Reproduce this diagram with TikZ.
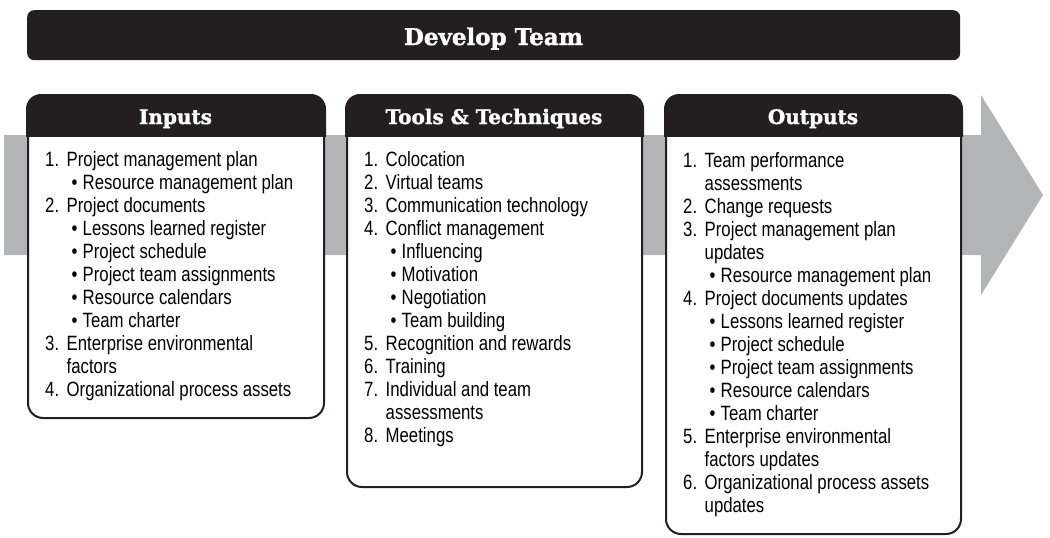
\documentclass[tikz,border=0pt]{standalone}
\usepackage{fontspec}
\newfontfamily\bodyfont{Liberation Sans}[FakeStretch=0.81]
\newfontfamily\headfont{DejaVu Serif}[BoldFeatures={FakeBold=1.6}]
\definecolor{barblack}{RGB}{35,31,32}
\definecolor{flowgray}{RGB}{179,180,182}

% list helpers: numbered item, continuation line, bullet sub-item
\newcommand\numitem[2]{\makebox[21.5pt][l]{#1}#2}
\newcommand\contline[1]{\hspace*{21.5pt}#1}
\newcommand\bulitem[1]{\hspace*{26.5pt}\makebox[11pt][l]{\textbullet}#1}
\newcommand\listbody[1]{\parbox[t]{290pt}{\bodyfont\fontsize{20.7}{23}\selectfont #1}}

\tikzset{
  panel/.style={draw=barblack, line width=2pt, fill=white, rounded corners=15pt,
    anchor=north west, inner sep=0pt},
  paneltitle/.style={font=\headfont\bfseries\fontsize{20}{24}\selectfont, text=white,
    anchor=base, inner sep=0pt},
  panelbody/.style={anchor=base west, inner sep=0pt},
  titlebar/.style={fill=barblack, rounded corners=7pt, anchor=north west,
    minimum width=933pt, minimum height=50pt, inner sep=0pt},
}

\begin{document}
\begin{tikzpicture}[x=1pt, y=-1pt]
\useasboundingbox (0,0) rectangle (1050,538);

% flow arrow behind the panels
\fill[flowgray] (4,135) -- (981,135) -- (981,95) -- (1043,195) -- (981,295)
  -- (981,255) -- (4,255) -- cycle;

% title bar
\node[titlebar] (titlebox) at (27,10) {};
\node[font=\headfont\bfseries\fontsize{23}{27}\selectfont, text=white, anchor=base,
  inner sep=0pt] (title) at (493.5,45) {Develop Team};

% panels
\node[panel, minimum width=296pt, minimum height=322pt] (inp) at (27,95) {};
\node[panel, minimum width=295pt, minimum height=391pt] (tls) at (346,95) {};
\node[panel, minimum width=295pt, minimum height=438pt] (out) at (665,95) {};

% dark header strips
\foreach \p in {inp,tls,out}{
  \begin{scope}
    \clip ([xshift=-2pt,yshift=2pt]\p.north west) rectangle ([xshift=2pt]\p.east |- 0,136);
    \fill[barblack, rounded corners=15pt] ([xshift=-1pt,yshift=1pt]\p.north west)
      rectangle ([xshift=1pt,yshift=-1pt]\p.south east);
  \end{scope}
}

\node[paneltitle] (inptitle) at (175.5,124) {Inputs};
\node[paneltitle] (tlstitle) at (494,124) {Tools \& Techniques};
\node[paneltitle] (outtitle) at (813,124) {Outputs};

\node[panelbody] (inpbody) at (45,166.5) {\listbody{%
\numitem{1.}{Project management plan}\\
\bulitem{Resource management plan}\\
\numitem{2.}{Project documents}\\
\bulitem{Lessons learned register}\\
\bulitem{Project schedule}\\
\bulitem{Project team assignments}\\
\bulitem{Resource calendars}\\
\bulitem{Team charter}\\
\numitem{3.}{Enterprise environmental}\\
\contline{factors}\\
\numitem{4.}{Organizational process assets}}};

\node[panelbody] (tlsbody) at (364,166.5) {\listbody{%
\numitem{1.}{Colocation}\\
\numitem{2.}{Virtual teams}\\
\numitem{3.}{Communication technology}\\
\numitem{4.}{Conflict management}\\
\bulitem{Influencing}\\
\bulitem{Motivation}\\
\bulitem{Negotiation}\\
\bulitem{Team building}\\
\numitem{5.}{Recognition and rewards}\\
\numitem{6.}{Training}\\
\numitem{7.}{Individual and team}\\
\contline{assessments}\\
\numitem{8.}{Meetings}}};

\node[panelbody] (outbody) at (683,167.5) {\listbody{%
\numitem{1.}{Team performance}\\
\contline{assessments}\\
\numitem{2.}{Change requests}\\
\numitem{3.}{Project management plan}\\
\contline{updates}\\
\bulitem{Resource management plan}\\
\numitem{4.}{Project documents updates}\\
\bulitem{Lessons learned register}\\
\bulitem{Project schedule}\\
\bulitem{Project team assignments}\\
\bulitem{Resource calendars}\\
\bulitem{Team charter}\\
\numitem{5.}{Enterprise environmental}\\
\contline{factors updates}\\
\numitem{6.}{Organizational process assets}\\
\contline{updates}}};
\end{tikzpicture}
\end{document}
